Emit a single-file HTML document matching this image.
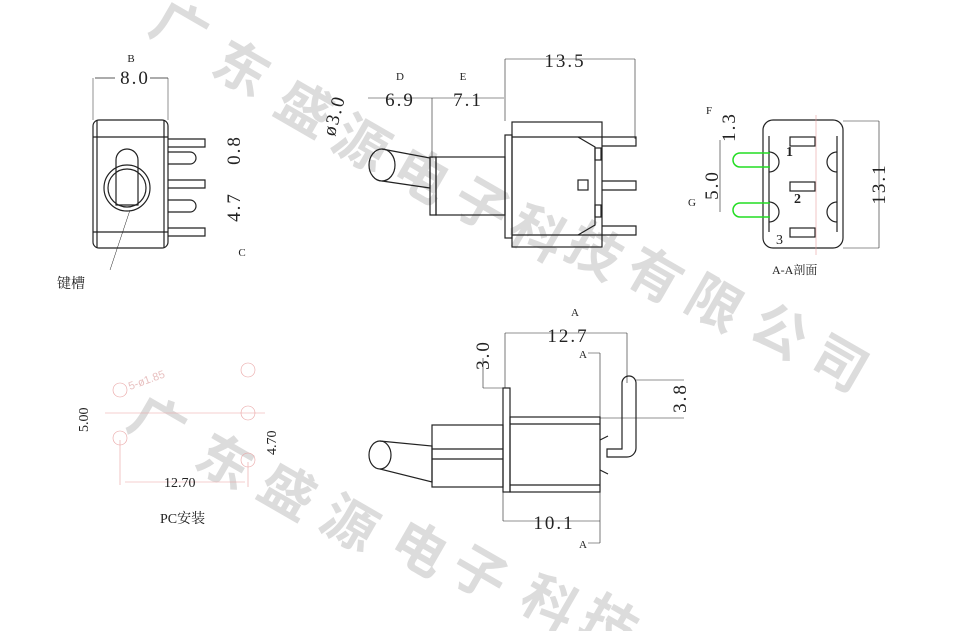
<!DOCTYPE html>
<html><head><meta charset="utf-8"><style>
html,body{margin:0;padding:0;background:#fff;width:977px;height:631px;overflow:hidden;}
svg{display:block;}
.t{font-family:"Liberation Serif","Noto Serif CJK SC",serif;fill:#222;}
.wm{font-family:"Liberation Sans","Noto Sans CJK SC",sans-serif;font-weight:bold;fill:#dcdcdc;font-size:54px;}
</style></head><body>
<svg width="977" height="631" viewBox="0 0 977 631" xmlns="http://www.w3.org/2000/svg">
<g class="wm" text-anchor="middle">
<text transform="translate(170,45) rotate(30)">广</text>
<text transform="translate(232,85) rotate(30)">东</text>
<text transform="translate(295,125) rotate(30)">盛</text>
<text transform="translate(352,160) rotate(30)">源</text>
<text transform="translate(412,192) rotate(30)">电</text>
<text transform="translate(472,222) rotate(30)">子</text>
<text transform="translate(528,250) rotate(30)">科</text>
<text transform="translate(585,268) rotate(30)">技</text>
<text transform="translate(645,292) rotate(30)">有</text>
<text transform="translate(705,320) rotate(30)">限</text>
<text transform="translate(770,348) rotate(30)">公</text>
<text transform="translate(830,380) rotate(30)">司</text>
<text transform="translate(148,440) rotate(30)">广</text>
<text transform="translate(215,478) rotate(30)">东</text>
<text transform="translate(278,508) rotate(30)">盛</text>
<text transform="translate(340,540) rotate(30)">源</text>
<text transform="translate(410,565) rotate(30)">电</text>
<text transform="translate(470,590) rotate(30)">子</text>
<text transform="translate(540,620) rotate(30)">科</text>
<text transform="translate(600,640) rotate(30)">技</text>
</g>
<g fill="none" stroke="#222" stroke-width="1.2">
<rect x="93" y="120" width="75" height="128" rx="6"/>
<line x1="93" y1="137" x2="168" y2="137"/><line x1="93" y1="232" x2="168" y2="232"/>
<line x1="97" y1="120" x2="97" y2="248"/><line x1="164" y1="120" x2="164" y2="248"/>
<path d="M168 139h37v8h-37M168 180h37v8h-37M168 228h37v8h-37"/>
<path d="M168 152h22a6 6 0 0 1 0 12h-22M168 200h22a6 6 0 0 1 0 12h-22"/>
<circle cx="127" cy="188" r="23"/><circle cx="127" cy="188" r="19"/>
<path d="M116 205v-45a11 11 0 0 1 22 0v45z"/>
<line x1="95" y1="78" x2="115" y2="78" stroke-width="0.8"/><line x1="150" y1="78" x2="168" y2="78" stroke-width="0.8"/>
<line x1="93" y1="78" x2="93" y2="120" stroke-width="0.5"/><line x1="168" y1="78" x2="168" y2="120" stroke-width="0.5"/>
<line x1="110" y1="270" x2="130" y2="210" stroke-width="0.5"/>
<ellipse cx="382" cy="165" rx="13" ry="16"/>
<path d="M382 149L430 158v30L382 181"/>
<path d="M430 157h6v58h-6z"/>
<rect x="436" y="157" width="69" height="58"/>
<rect x="505" y="135" width="7" height="103"/>
<rect x="512" y="122" width="90" height="125"/>
<line x1="512" y1="137" x2="602" y2="137"/><line x1="512" y1="235" x2="602" y2="235"/>
<path d="M578 137l17 10v78l-17 10"/>
<rect x="595" y="148" width="6" height="12"/><rect x="595" y="205" width="6" height="12"/>
<rect x="578" y="180" width="10" height="10"/>
<path d="M602 137h34v9h-34M602 181h34v9h-34M602 226h34v9h-34"/>
<path d="M505 59h130M505 59v62M635 59v80M368 98h136M432 98v60" stroke-width="0.6"/>
<rect x="763" y="120" width="80" height="128" rx="10"/>
<line x1="769" y1="136" x2="769" y2="232"/><line x1="837" y1="136" x2="837" y2="232"/>
<rect x="790" y="137" width="25" height="9"/><rect x="790" y="182" width="25" height="9"/><rect x="790" y="228" width="25" height="9"/>
<path d="M769 152a10 10 0 0 1 10 10a10 10 0 0 1-10 10M769 202a10 10 0 0 1 10 10a10 10 0 0 1-10 10"/>
<path d="M837 152a10 10 0 0 0-10 10a10 10 0 0 0 10 10M837 202a10 10 0 0 0-10 10a10 10 0 0 0 10 10"/>
<path d="M843 121h36M843 248h36M879 121v127M720 140v72" stroke-width="0.6"/>
<ellipse cx="380" cy="455" rx="11" ry="14"/>
<path d="M380 441L432 446v36L380 469"/>
<rect x="432" y="425" width="71" height="62"/>
<line x1="432" y1="449" x2="503" y2="449"/><line x1="432" y1="459" x2="503" y2="459"/>
<rect x="503" y="388" width="7" height="104"/>
<rect x="510" y="417" width="90" height="75"/>
<line x1="510" y1="424" x2="600" y2="424"/><line x1="510" y1="485" x2="600" y2="485"/>
<path d="M622 383a7 7 0 0 1 14 0v65a9 9 0 0 1-9 9h-20v-8h15z"/>
<path d="M600 440l8-4M600 470l8 4"/>
<path d="M505 333h122M505 333v55M627 333v50M503 521h97M503 490v31M600 490v31M600 353v190M588 353h12M588 543h12M483 388v-30M483 388h20M636 380h48M600 418h84" stroke-width="0.6"/>
</g>
<g stroke="#2d2" stroke-width="1.5" fill="none">
<path d="M770 153h-30a7 7 0 0 0 0 14h30M770 203h-30a7 7 0 0 0 0 14h30"/>
</g>
<g stroke="#e9a0a0" stroke-width="0.6" fill="none">
<circle cx="120" cy="390" r="7"/><circle cx="120" cy="438" r="7"/><circle cx="248" cy="370" r="7"/><circle cx="248" cy="413" r="7"/><circle cx="248" cy="460" r="7"/>
<path d="M105 413h160M120 440v45M248 462v25M125 482h120"/>
<line x1="816" y1="115" x2="816" y2="255"/>
</g>
<g class="t" font-size="19" text-anchor="middle" letter-spacing="2">
<text x="135" y="84">8.0</text>
<text x="565" y="67">13.5</text>
<text x="400" y="106">6.9</text>
<text x="468" y="106">7.1</text>
<text x="568" y="342">12.7</text>
<text x="554" y="529">10.1</text>
<text transform="translate(240,150) rotate(-90)">0.8</text>
<text transform="translate(240,207) rotate(-90)">4.7</text>
<text transform="translate(340,117) rotate(-75)">ø3.0</text>
<text transform="translate(489,355) rotate(-90)">3.0</text>
<text transform="translate(686,398) rotate(-90)">3.8</text>
<text transform="translate(735,127) rotate(-90)">1.3</text>
<text transform="translate(718,185) rotate(-90)">5.0</text>
<text transform="translate(885,184) rotate(-90)">13.1</text>
</g>
<g class="t" font-size="11" text-anchor="middle">
<text x="131" y="62">B</text><text x="400" y="80">D</text><text x="463" y="80">E</text>
<text x="242" y="256">C</text><text x="709" y="114">F</text><text x="692" y="206">G</text>
<text x="575" y="316">A</text><text x="583" y="358">A</text><text x="583" y="548">A</text>
</g>
<g class="t" font-size="14">
<text x="57" y="288">键槽</text>
<text x="772" y="274" font-size="12">A-A剖面</text>
<text x="160" y="523">PC安装</text>
<text x="164" y="487">12.70</text>
<text transform="translate(88,432) rotate(-90)">5.00</text>
<text transform="translate(276,455) rotate(-90)">4.70</text>
<text x="786" y="156" font-weight="bold">1</text>
<text x="794" y="203" font-weight="bold">2</text>
<text x="776" y="244">3</text>
</g>
<text x="130" y="390" font-family="Liberation Sans" font-size="11" fill="#e8c0c0" transform="rotate(-20 130 390)">5-ø1.85</text>
</svg>
</body></html>
